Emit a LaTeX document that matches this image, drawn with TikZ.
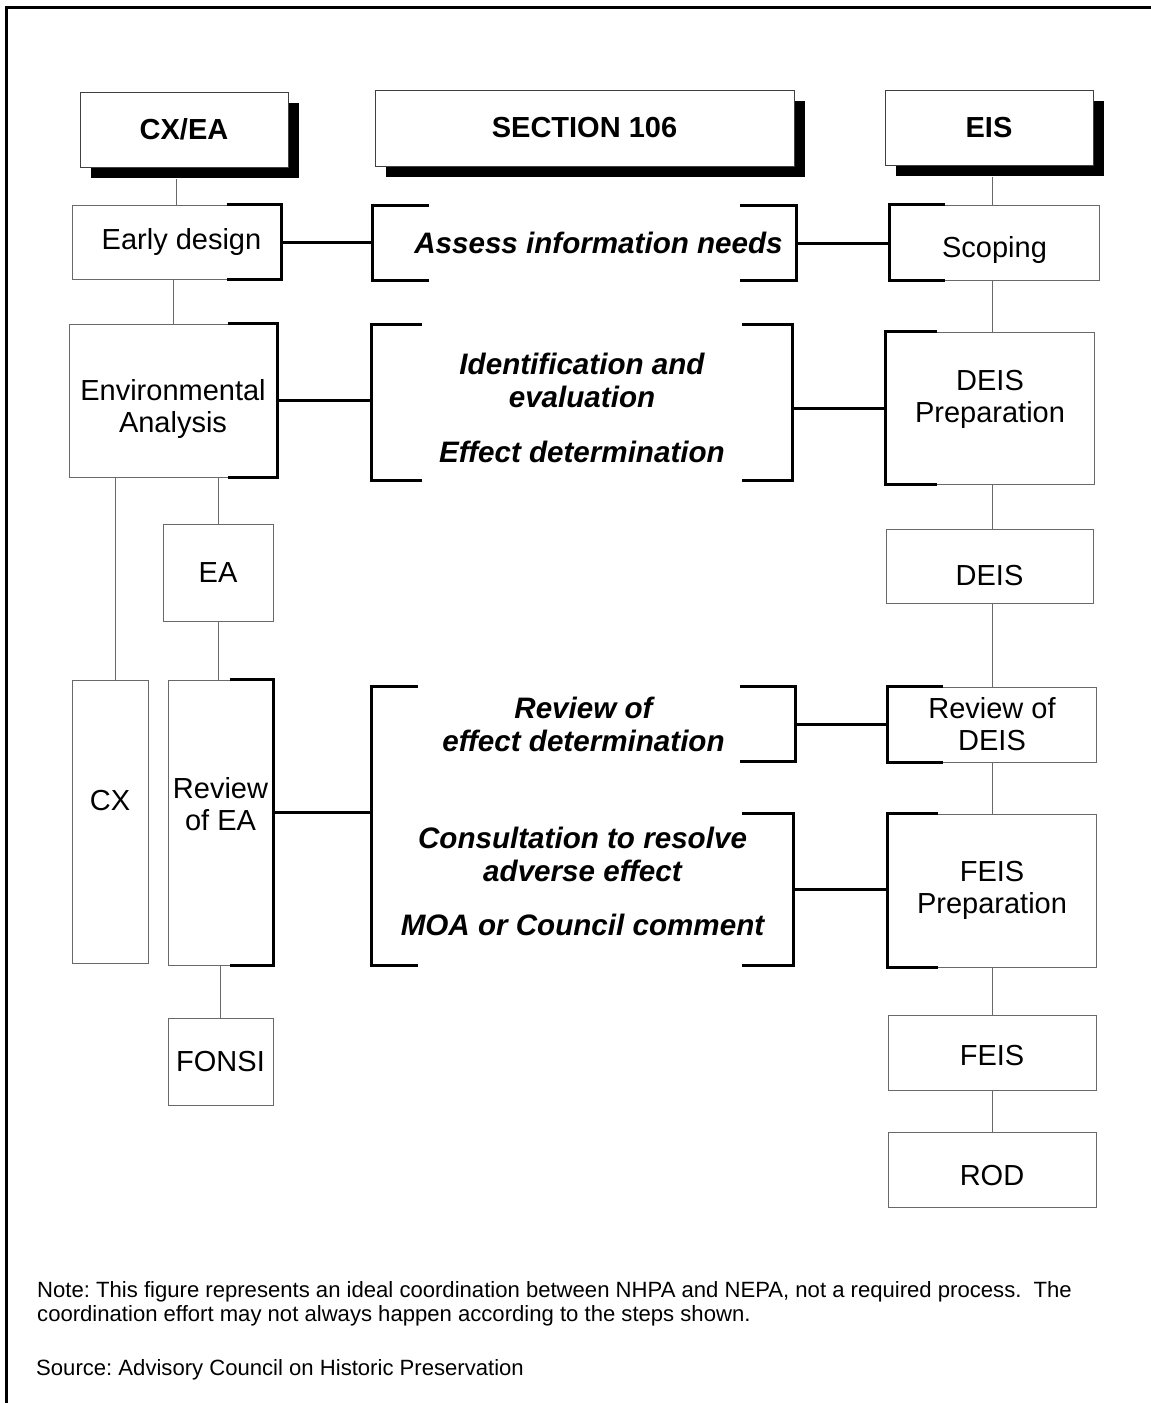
\documentclass[tikz,border=0pt]{standalone}
\usepackage{fontspec}
\setmainfont{Liberation Sans}
\frenchspacing
\usepackage{tikz}
\usetikzlibrary{shadows,calc}
\definecolor{Rule}{RGB}{105,105,105}

\tikzset{
  box/.style={draw=Rule, line width=1pt, fill=white, inner sep=0pt, align=center,
    font=\fontsize{29}{32}\selectfont},
  head/.style={box, draw=black!75, font=\fontsize{29}{32}\selectfont\bfseries,
    drop shadow={shadow xshift=11pt, shadow yshift=-11pt, fill=black, opacity=1}},
  group/.style={inner sep=0pt, align=center, font=\fontsize{29.6}{33}\selectfont\bfseries\itshape},
  brak/.style={line width=3pt, black},
  link/.style={line width=3pt, black},
  tie/.style={draw=Rule, line width=1pt},
  sink/.style={text height=#1},
  lift/.style={text depth=#1},
  small/.style={inner sep=0pt, align=left, font=\fontsize{22.1}{24.5}\selectfont}
}
% thick bracket on the right or left side of a node
\newcommand{\rbrak}[2]{\draw[brak] ([xshift=-#2]#1.north east) -| (#1.south east) -- ++(-#2,0);}
\newcommand{\lbrak}[2]{\draw[brak] ([xshift=#2]#1.north west) -| (#1.south west) -- ++(#2,0);}

\begin{document}
\begin{tikzpicture}[x=1pt,y=-1pt]
    \useasboundingbox (0,0) rectangle (1151,1403);
    \draw[line width=3pt] (6,1403) -- (6,7) -- (1151,7);

    % headers
    \node[head, minimum width=208pt, minimum height=75pt] (cxea) at (184,129.5) {CX/EA};
    \node[head, minimum width=419pt, minimum height=76pt] (sec) at (584.5,128) {SECTION 106};
    \node[head, minimum width=208pt, minimum height=75pt] (eis) at (989,127.5) {EIS};
    \coordinate (cxeafoot) at ($(cxea.south)+(0,11)$);
    \coordinate (eisfoot) at ($(eis.south)+(0,11)$);

    % CX/EA column
    \node[box, minimum width=209pt, minimum height=74pt] (early) at (176.5,242) {\hspace*{10pt}Early design};
    \node[box, minimum width=208pt, minimum height=153pt, sink=71pt] (envan) at (173,400.5) {Environmental\\Analysis};
    \node[box, minimum width=110pt, minimum height=97pt] (ea) at (218,572.5) {EA};
    \node[box, minimum width=76pt, minimum height=283pt, lift=42pt] (cx) at (110,821.5) {CX};
    \node[box, minimum width=105pt, minimum height=285pt, lift=38pt] (revea) at (220.5,822.5) {Review\\of EA};
    \node[box, minimum width=105pt, minimum height=87pt] (fonsi) at (220.5,1061.5) {FONSI};

    % Section 106 column
    \node[group, minimum width=423pt, minimum height=74pt] (assess) at (584.5,243) {\hspace*{28pt}Assess information needs};
    \node[group, minimum width=420pt, minimum height=155pt, sink=120pt] (ident) at (582,402.5) {Identification and\\evaluation\\[22pt]Effect determination};
    \node[group, minimum width=423pt, minimum height=74pt] (reveff) at (583.5,724) {Review of\\effect determination};
    \node[group, minimum width=421pt, minimum height=151pt, lift=16pt] (consult) at (582.5,889.5) {Consultation to resolve\\adverse effect\\[21pt]MOA or Council comment};

    % EIS column
    \node[box, minimum width=209pt, minimum height=75pt, sink=37pt] (scoping) at (994.5,242.5) {Scoping};
    \node[box, minimum width=208pt, minimum height=152pt, lift=24pt] (deisprep) at (990,408) {DEIS\\Preparation};
    \node[box, minimum width=207pt, minimum height=74pt, sink=39pt] (deis) at (989.5,566) {DEIS};
    \node[box, minimum width=208pt, minimum height=75pt] (revdeis) at (992,724.5) {Review of\\DEIS};
    \node[box, minimum width=208pt, minimum height=153pt] (feisprep) at (992,890.5) {FEIS\\Preparation};
    \node[box, minimum width=208pt, minimum height=75pt, sink=27pt] (feis) at (992,1052.5) {FEIS};
    \node[box, minimum width=208pt, minimum height=75pt, sink=33pt] (rod) at (992,1169.5) {ROD};

    % brackets
    \rbrak{early}{55pt}
    \rbrak{envan}{50pt}
    \rbrak{revea}{44pt}
    \lbrak{assess}{56pt}
    \rbrak{assess}{56pt}
    \lbrak{ident}{50pt}
    \rbrak{ident}{50pt}
    \draw[brak] ([xshift=46pt]reveff.north west) -| (consult.south west) -- ++(46pt,0);
    \rbrak{reveff}{55pt}
    \rbrak{consult}{51pt}
    \lbrak{scoping}{55pt}
    \lbrak{deisprep}{51pt}
    \lbrak{revdeis}{55pt}
    \lbrak{feisprep}{50pt}

    % thin connectors
    \draw[tie] (early.north) -- (early.north |- cxeafoot);
    \draw[tie] (envan.north) -- (envan.north |- early.south);
    \draw[tie] ([xshift=5pt]cx.north) -- ([xshift=5pt]cx.north |- envan.south);
    \draw[tie] (ea.north) -- (ea.north |- envan.south);
    \draw[tie] (ea.south) -- (ea.south |- revea.north);
    \draw[tie] (fonsi.north) -- (fonsi.north |- revea.south);
    \coordinate (spine) at (992,0);
    \draw[tie] (spine |- eisfoot) -- (spine |- scoping.north);
    \foreach \a/\b in {scoping/deisprep, deisprep/deis, deis/revdeis, revdeis/feisprep, feisprep/feis, feis/rod}
    \draw[tie] (spine |- \a.south) -- (spine |- \b.north);

    % thick links
    \draw[link] (early.east) -- (early.east -| assess.west);
    \draw[link] (assess.east) -- (assess.east -| scoping.west);
    \draw[link] (envan.east) -- (envan.east -| ident.west);
    \draw[link] (deisprep.west) -- (deisprep.west -| ident.east);
    \draw[link] ([yshift=10pt]revea.east) -- ([yshift=10pt]revea.east -| consult.west);
    \draw[link] (reveff.east) -- (reveff.east -| revdeis.west);
    \draw[link] (consult.east) -- (consult.east -| feisprep.west);

    % notes
    \node[small, anchor=north west] (note) at (37,1281) {Note: This figure represents an ideal coordination between NHPA and NEPA, not a required process.~ The\\coordination effort may not always happen according to the steps shown.};
    \node[small, anchor=base west] (source) at (36,1375) {Source: Advisory Council on Historic Preservation};
\end{tikzpicture}
\end{document}
